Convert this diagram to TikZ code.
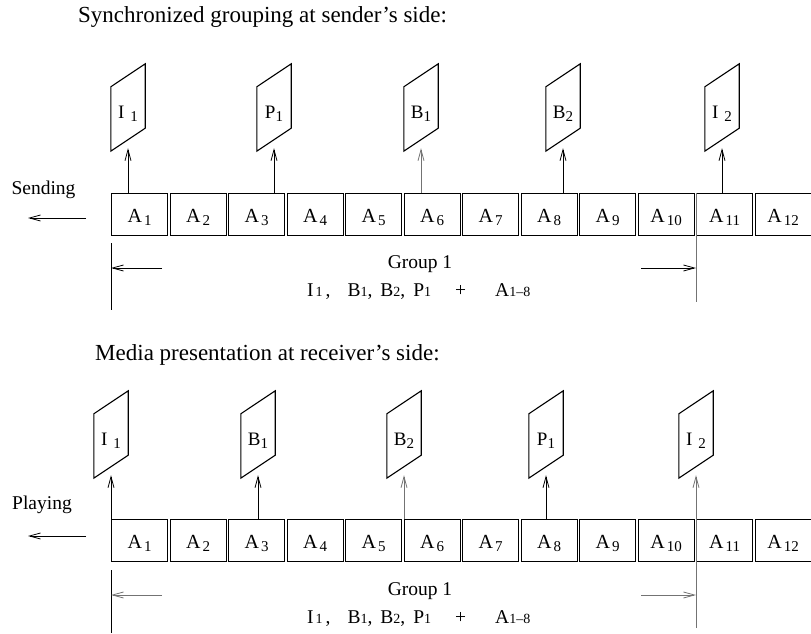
\documentclass[tikz,border=0pt]{standalone}
\usepackage{fontspec}
\setmainfont{Liberation Serif}
\usetikzlibrary{arrows.meta}
\newcommand{\sbb}[1]{\raisebox{-3pt}{\fontsize{15}{15}\selectfont #1}}
\newcommand{\smd}[1]{{\fontsize{14}{14}\selectfont #1}}
\newcommand{\formula}{I\kern2pt\smd{1}\kern3pt,\hspace{17pt}B\smd{1},\hspace{8pt}B\smd{2},\hspace{8pt}P\smd{1}\hspace{24pt}+\hspace{29pt}A\smd{1--8}}
\newcommand{\pframe}[1]{\draw[frame] ([yshift=-23pt]#1.north west) -- (#1.south west) -- ([yshift=23pt]#1.south east) -- (#1.north east) -- cycle;}
\begin{document}
\begin{tikzpicture}[x=1pt,y=-1pt,
  abox/.style={draw, line width=1.1pt, minimum width=56pt, minimum height=42pt, inner sep=0pt, anchor=north west, text height=16pt, text depth=0pt, font=\fontsize{20}{20}\selectfont},
  para/.style={minimum width=34pt, minimum height=87pt, inner sep=0pt},
  frame/.style={line width=1.1pt, line join=miter},
  plabel/.style={inner sep=0pt, font=\fontsize{19}{19}\selectfont},
  arr/.style={line width=1pt, -{Straight Barb[length=11pt,width=6pt,line width=0.8pt]}},
  garr/.style={arr, black!55},
  gline/.style={line width=1pt, black!55},
  vline/.style={line width=0.9pt},
  title/.style={anchor=base west, inner sep=0pt, font=\fontsize{23}{27}\selectfont},
  side/.style={anchor=base, inner sep=0pt, font=\fontsize{19.5}{22}\selectfont},
  grp/.style={anchor=base, inner sep=0pt, font=\fontsize{19.5}{22}\selectfont},
  frm/.style={anchor=base west, inner sep=0pt, font=\fontsize{19.5}{22}\selectfont}
]
\useasboundingbox (0,0) rectangle (811,634);

% ---------- top section ----------
\node[title] (t1) at (78,23) {Synchronized grouping at sender's side:};
\foreach \i in {1,...,12}
  \node[abox] (a\i) at ({111+58.5*(\i-1)},193) {A\kern2pt\sbb{\i}};

\node[para] (pI1) at (128,107.5) {};
\node[para] (pP1) at (274,107.5) {};
\node[para] (pB1) at (421,107.5) {};
\node[para] (pB2) at (563,107.5) {};
\node[para] (pI2) at (722,107.5) {};
\pframe{pI1}\pframe{pP1}\pframe{pB1}\pframe{pB2}\pframe{pI2}
\node[plabel] (lI1) at ([yshift=-6.5pt]pI1.center) {I\kern6pt\sbb{1}};
\node[plabel] (lP1) at ([yshift=-6.5pt]pP1.center) {P\sbb{1}};
\node[plabel] (lB1) at ([yshift=-6.5pt]pB1.center) {B\sbb{1}};
\node[plabel] (lB2) at ([yshift=-6.5pt]pB2.center) {B\sbb{2}};
\node[plabel] (lI2) at ([yshift=-6.5pt]pI2.center) {I\kern6pt\sbb{2}};

\draw[arr] (pI1.south |- a1.north) -- ([yshift=3pt]pI1.south);
\draw[arr] (pP1.south |- a3.north) -- ([yshift=3pt]pP1.south);
\draw[garr] (pB1.south |- a6.north) -- ([yshift=3pt]pB1.south);
\draw[arr] (pB2.south |- a8.north) -- ([yshift=3pt]pB2.south);
\draw[arr] (pI2.south |- a11.north) -- ([yshift=3pt]pI2.south);

\node[side] (send) at (43.5,194) {Sending};
\coordinate (sa) at (86,218);
\coordinate (sb) at (28,218);
\draw[arr] (sa) -- (sb);

\coordinate (tl1) at (111,243);
\coordinate (tl2) at (111,310);
\draw[vline] (tl1) -- (tl2);
\coordinate (tr2) at (696,302);
\draw[gline] (a11.north west) -- (tr2);
\coordinate (gla) at (162,268);
\draw[arr] (gla) -- (gla -| tl1);
\coordinate (gra) at (641,268);
\draw[arr] (gra) -- (gra -| tr2);
\node[grp] (g1) at (420,268) {Group 1};
\node[frm] (f1) at (307,296) {\formula};

% ---------- bottom section ----------
\node[title] (t2) at (95,360) {Media presentation at receiver's side:};
\foreach \i in {1,...,12}
  \node[abox] (b\i) at ({111+58.5*(\i-1)},519) {A\kern2pt\sbb{\i}};

\node[para] (qI1) at (111,434.5) {};
\node[para] (qB1) at (258,434.5) {};
\node[para] (qB2) at (404,434.5) {};
\node[para] (qP1) at (546,434.5) {};
\node[para] (qI2) at (696,434.5) {};
\pframe{qI1}\pframe{qB1}\pframe{qB2}\pframe{qP1}\pframe{qI2}
\node[plabel] (mI1) at ([yshift=-6.5pt]qI1.center) {I\kern6pt\sbb{1}};
\node[plabel] (mB1) at ([yshift=-6.5pt]qB1.center) {B\sbb{1}};
\node[plabel] (mB2) at ([yshift=-6.5pt]qB2.center) {B\sbb{2}};
\node[plabel] (mP1) at ([yshift=-6.5pt]qP1.center) {P\sbb{1}};
\node[plabel] (mI2) at ([yshift=-6.5pt]qI2.center) {I\kern6pt\sbb{2}};

\draw[arr] (qI1.south |- b1.north) -- ([yshift=3pt]qI1.south);
\draw[arr] (qB1.south |- b3.north) -- ([yshift=3pt]qB1.south);
\draw[garr] (qB2.south |- b6.north) -- ([yshift=3pt]qB2.south);
\draw[arr] (qP1.south |- b8.north) -- ([yshift=3pt]qP1.south);
\coordinate (br2) at (696,628);
\draw[garr] (br2) -- ([yshift=3pt]qI2.south);

\node[side] (play) at (42,509) {Playing};
\coordinate (pa) at (86,536);
\coordinate (pb) at (28,536);
\draw[arr] (pa) -- (pb);

\coordinate (bl1) at (111,570);
\coordinate (bl2) at (111,633);
\draw[vline] (bl1) -- (bl2);
\coordinate (hla) at (162,595);
\draw[garr] (hla) -- (hla -| bl1);
\coordinate (hra) at (641,595);
\draw[garr] (hra) -- (hra -| br2);
\node[grp] (g2) at (420,595) {Group 1};
\node[frm] (f2) at (307,623) {\formula};
\end{tikzpicture}
\end{document}
